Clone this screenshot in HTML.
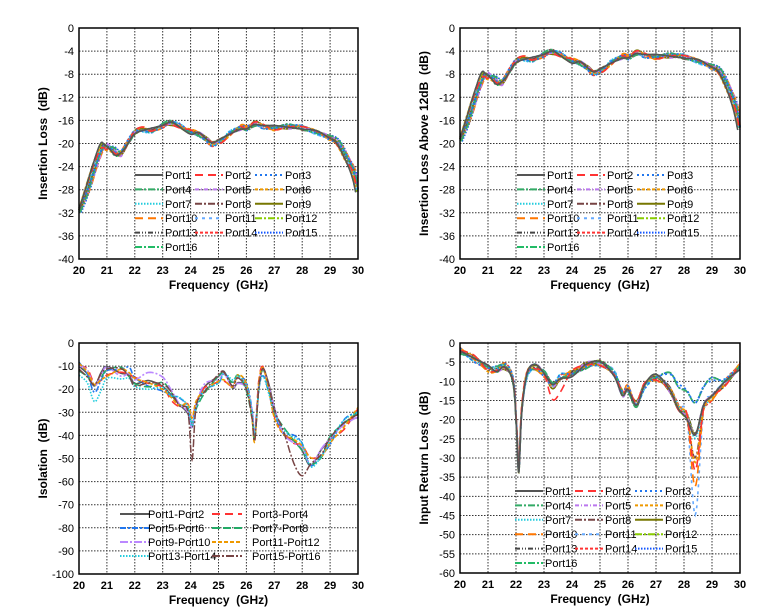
<!DOCTYPE html><html><head><meta charset="utf-8"><style>
html,body{margin:0;padding:0;background:#fff;width:765px;height:612px;overflow:hidden}
text{font-family:"Liberation Sans",sans-serif}
</style></head><body>
<svg id="s" width="765" height="612" xmlns="http://www.w3.org/2000/svg"></svg>
<script>
const S=document.getElementById('s');let out='';
const styles=[
['#555','',1.6],['#f33','8,5',1.6],['#27e','2,3',1.8],['#3a6','7,2,2,2',1.8],['#b7e','4,2,1,2',1.8],['#e90','3,2',1.8],
['#2cd','1.5,1.5',1.6],['#744','7,2,2,2',1.4],['#770','',1.6],['#f70','8,5',1.6],['#6af','3,4',1.6],['#8c0','7,2,2,2',1.6],
['#444','5,2,1,2,1,2',1.4],['#f33','3,2',1.6],['#15f','1.5,1.5',1.6],['#2b6','7,2,2,2',1.6]];
function spline(pts){const r=[];for(let i=0;i<pts.length-1;i++){const p0=pts[Math.max(0,i-1)],p1=pts[i],p2=pts[i+1],p3=pts[Math.min(pts.length-1,i+2)];for(let t=0;t<1;t+=0.1){const t2=t*t,t3=t2*t;const f=k=>0.5*((2*p1[k])+(-p0[k]+p2[k])*t+(2*p0[k]-5*p1[k]+4*p2[k]-p3[k])*t2+(-p0[k]+3*p1[k]-3*p2[k]+p3[k])*t3);r.push([f(0),f(1)]);}}r.push(pts[pts.length-1]);return r;}
function axes(x0,y0,x1,y1,ymin,ymax,ystep,ylabel){
 const W=x1-x0,H=y1-y0;let g='';
 for(let v=ymin;v<=ymax;v+=ystep){const y=y1-(v-ymin)/(ymax-ymin)*H;if(v>ymin&&v<ymax)g+=`<line x1="${x0}" x2="${x1}" y1="${y}" y2="${y}" stroke="#333" stroke-width="1" stroke-dasharray="1.5,1.5"/>`;g+=`<text x="${x0-5}" y="${y+4}" font-size="11" text-anchor="end">${v}</text>`;}
 for(let f=20;f<=30;f++){const x=x0+(f-20)/10*W;if(f>20&&f<30)g+=`<line x1="${x}" x2="${x}" y1="${y0}" y2="${y1}" stroke="#333" stroke-width="1" stroke-dasharray="1.5,1.5"/>`;g+=`<text x="${x}" y="${y1+15}" font-size="11" text-anchor="middle" font-weight="bold">${f}</text>`;}
 g+=`<text x="${(x0+x1)/2}" y="${y1+30}" font-size="12" font-weight="bold" text-anchor="middle">Frequency\u00a0\u00a0(GHz)</text>`;
 g+=`<text transform="translate(${x0-32},${(y0+y1)/2}) rotate(-90)" font-size="12" font-weight="bold" text-anchor="middle">${ylabel}</text>`;
 return g;}
function series(x0,y0,x1,y1,ymin,ymax,pts,st){const W=x1-x0,H=y1-y0;const sp=spline(pts);let d='';sp.forEach((p,i)=>{let v=Math.max(ymin,Math.min(ymax,p[1]));d+=(i?'L':'M')+(x0+(p[0]-20)/10*W).toFixed(1)+','+(y1-(v-ymin)/(ymax-ymin)*H).toFixed(1);});return `<path d="${d}" fill="none" stroke="${st[0]}" stroke-width="${st[2]}" ${st[1]?'stroke-dasharray="'+st[1]+'"':''}/>`;}
const frame=(x0,y0,x1,y1)=>`<rect x="${x0}" y="${y0}" width="${x1-x0}" height="${y1-y0}" fill="none" stroke="#000" stroke-width="1.5"/>`;
function legend16(lx,ly){let g='';for(let i=0;i<16;i++){const c=i%3,r=Math.floor(i/3);const x=lx+c*60,y=ly+r*14.4;const st=styles[i];g+=`<line x1="${x}" x2="${x+28}" y1="${y}" y2="${y}" stroke="${st[0]}" stroke-width="2" ${st[1]?'stroke-dasharray="'+st[1]+'"':''}/><text x="${x+30}" y="${y+4}" font-size="11">Port${i+1}</text>`;}return g;}
const noise=(i,x)=>0.5*Math.sin(x*3.1+i*1.7)+0.35*Math.sin(x*7.3+i*2.9);
const IL=[[20,-31.5],[20.3,-28],[20.6,-23.5],[20.85,-20.5],[21,-20.6],[21.2,-21],[21.4,-21.8],[21.6,-21],[21.8,-19.5],[22,-18],[22.3,-17.6],[22.6,-17.8],[23,-16.9],[23.3,-16.4],[23.6,-17],[24,-18],[24.3,-18.3],[24.6,-19.5],[24.8,-20],[25.1,-19.5],[25.4,-18.3],[25.8,-17.2],[26,-17.4],[26.3,-16.6],[26.6,-17],[27,-17.3],[27.5,-17],[28,-17.2],[28.5,-18],[29,-19],[29.3,-20],[29.6,-22.5],[29.85,-25],[30,-28]];
let g=axes(79,28,358,259,-40,0,4,'Insertion Loss\u00a0\u00a0(dB)');
for(let i=15;i>=0;i--){const sh=(i%5-2)*0.04;g+=series(79,28,358,259,-40,0,IL.map(p=>[Math.min(30,Math.max(20,p[0]+(p[0]<21.5||p[0]>28.8?sh:0))),p[1]+noise(i,p[0])*0.6]),styles[i]);}
g+=frame(79,28,358,259)+legend16(135,175);out+=g;
g=axes(460,28,740,259,-40,0,4,'Insertion Loss Above 12dB\u00a0\u00a0(dB)');
const IR=IL.map(p=>[p[0],p[1]+12.3+(p[0]>29.5?-(p[0]-29.5)*3:0)]);
for(let i=15;i>=0;i--){const sh=(i%5-2)*0.04;g+=series(460,28,740,259,-40,0,IR.map(p=>[Math.min(30,Math.max(20,p[0]+(p[0]<21.5||p[0]>28.8?sh:0))),p[1]+noise(i,p[0])*0.6]),styles[i]);}
g+=frame(460,28,740,259)+legend16(517,175);out+=g;
const ISO=[[20,-10],[20.3,-13],[20.55,-19],[20.8,-15],[21,-12],[21.5,-12],[21.8,-13],[22,-16],[22.5,-18],[23,-19],[23.3,-23],[23.6,-26],[23.9,-28],[24.05,-35],[24.2,-27],[24.5,-20],[25,-16],[25.2,-14],[25.5,-18],[25.7,-15],[26,-19],[26.2,-30],[26.3,-40],[26.45,-18],[26.6,-12],[26.8,-20],[27,-30],[27.3,-38],[27.7,-42],[28,-45],[28.3,-52],[28.7,-48],[29,-42],[29.5,-35],[30,-30]];
const isoSt=[styles[0],styles[1],['#27e','6,2,2,2',1.6],['#2a6','8,3',1.6],['#b8f','8,2,2,2',1.6],['#e90','4,2',1.6],['#2cd','1.5,1.5',1.6],['#744','8,2,2,2',1.5]];
g=axes(79,343,358,574,-100,0,10,'Isolation\u00a0\u00a0(dB)');
for(let i=0;i<8;i++){let pts=ISO.map(p=>{let v=p[1]+noise(i,p[0])*3;if(i==6&&p[0]<22.5)v-=4;if(i==7&&p[0]>27.3&&p[0]<28.3)v-=10;if(i==7&&p[0]>23.9&&p[0]<24.2)v-=15;if(i==5&&p[0]>26.1&&p[0]<26.4)v-=3;if(i==4&&p[0]>22.3&&p[0]<23.5)v+=4;return[p[0],v];});g+=series(79,343,358,574,-100,0,pts,isoSt[i]);}
g+=frame(79,343,358,574);
const isoNames=['Port1-Port2','Port3-Port4','Port5-Port6','Port7-Port8','Port9-Port10','Port11-Port12','Port13-Port14','Port15-Port16'];
for(let i=0;i<8;i++){const c=i%2,r=Math.floor(i/2);const x=c?212:120,y=514+r*14;const st=isoSt[i];g+=`<line x1="${x}" x2="${x+30}" y1="${y}" y2="${y}" stroke="${st[0]}" stroke-width="2" ${st[1]?'stroke-dasharray="'+st[1]+'"':''}/><text x="${c?252:148}" y="${y+4}" font-size="11">${isoNames[i]}</text>`;}
out+=g;
const RL=[[20,-2],[20.5,-4],[21,-6.5],[21.3,-7],[21.6,-6],[21.9,-10],[22.02,-22],[22.1,-33],[22.2,-18],[22.4,-8],[22.7,-6.5],[23,-8],[23.3,-11],[23.6,-9],[24,-8],[24.5,-6],[25,-5.5],[25.5,-8],[25.8,-13],[26,-12],[26.3,-16],[26.6,-11],[27,-9],[27.5,-12],[27.8,-17],[28.1,-19],[28.4,-24],[28.7,-17],[29,-14],[29.5,-10],[30,-6]];
g=axes(460,343,740,573,-60,0,5,'Input Return Loss\u00a0\u00a0(dB)');
for(let i=15;i>=0;i--){let pts=RL.map(p=>{let v=p[1]+noise(i,p[0])*1.2;if((i==2||i==3||i==14)&&p[0]>27.3&&p[0]<29.3)v=v*0.6-1;if([1,5,7,9,10].includes(i)&&p[0]>28.3&&p[0]<28.6)v-=[0,10,0,0,0,8,0,6,0,14,20][i];if(i==1&&p[0]>23.2&&p[0]<24)v-=3;return[p[0],v];});g+=series(460,343,740,573,-60,0,pts,styles[i]);}
g+=frame(460,343,740,573)+legend16(515,491);out+=g;
S.innerHTML=out;
</script></body></html>
